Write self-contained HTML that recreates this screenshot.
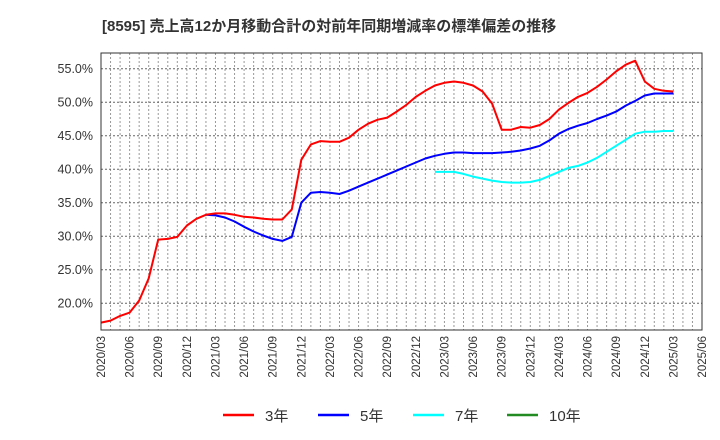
<!DOCTYPE html>
<html><head><meta charset="utf-8"><style>
body{margin:0;background:#fff;}
svg{display:block;font-family:"Liberation Sans","Noto Sans CJK JP",sans-serif;}
</style></head><body>
<svg id="chart" width="720" height="440">
<text x="102" y="31" font-size="15" font-weight="bold" fill="#333">[8595]  売上高12か月移動合計の対前年同期増減率の標準偏差の推移</text>
<g id="grid"></g>
<g id="axes"></g>
<g id="series"></g>
<rect x="101" y="53" width="601" height="277" fill="none" stroke="#333" stroke-width="1"/>
<g>
<g><line x1="223" y1="415" x2="254" y2="415" stroke="#ff0000" stroke-width="2.5"/><text x="265" y="421" font-size="15" fill="#333">3年</text></g>
<g><line x1="318" y1="415" x2="349" y2="415" stroke="#0000ff" stroke-width="2.5"/><text x="360" y="421" font-size="15" fill="#333">5年</text></g>
<g><line x1="413" y1="415" x2="444" y2="415" stroke="#00ffff" stroke-width="2.5"/><text x="455" y="421" font-size="15" fill="#333">7年</text></g>
<g><line x1="507" y1="415" x2="538" y2="415" stroke="#228b22" stroke-width="2.5"/><text x="549" y="421" font-size="15" fill="#333">10年</text></g>
</g>
</svg>
<script>
const yTicks=[20,25,30,35,40,45,50,55];
const xTickLabels=["2020/03","2020/06","2020/09","2020/12","2021/03","2021/06","2021/09","2021/12","2022/03","2022/06","2022/09","2022/12","2023/03","2023/06","2023/09","2023/12","2024/03","2024/06","2024/09","2024/12","2025/03","2025/06"];
const s3Start=0;
const s3=[17.1,17.4,18.1,18.6,20.4,23.7,29.5,29.6,29.9,31.6,32.6,33.2,33.4,33.4,33.2,32.9,32.8,32.6,32.5,32.5,34.0,41.4,43.7,44.2,44.1,44.1,44.7,45.9,46.8,47.4,47.7,48.6,49.6,50.8,51.7,52.5,52.9,53.1,52.9,52.5,51.6,49.8,45.9,45.9,46.3,46.2,46.6,47.5,48.9,49.9,50.8,51.4,52.3,53.4,54.6,55.6,56.2,53.1,52.0,51.7,51.6];
const s5Start=11;
const s5=[33.2,33.1,32.8,32.2,31.4,30.7,30.1,29.6,29.3,29.9,35.0,36.5,36.6,36.5,36.3,36.8,37.4,38.0,38.6,39.2,39.8,40.4,41.0,41.6,42.0,42.3,42.5,42.5,42.4,42.4,42.4,42.5,42.6,42.8,43.1,43.5,44.3,45.3,46.0,46.5,46.9,47.5,48.0,48.6,49.5,50.2,51.0,51.3,51.3,51.3];
const s7Start=35;
const s7=[39.6,39.6,39.6,39.3,38.9,38.6,38.3,38.1,38.0,38.0,38.1,38.4,39.0,39.6,40.2,40.5,41.0,41.7,42.6,43.5,44.4,45.3,45.6,45.6,45.7,45.7];

const NS="http://www.w3.org/2000/svg";
const L=101,R=702,T=53,B=330,months=63;
const yMin=16.0,yMax=57.35;
const xs=i=>L+(R-L)*i/months;
const ys=v=>B-(v-yMin)/(yMax-yMin)*(B-T);
function mk(tag,attrs,parent){const e=document.createElementNS(NS,tag);for(const k in attrs)e.setAttribute(k,attrs[k]);parent.appendChild(e);return e;}
const grid=document.getElementById('grid'),axes=document.getElementById('axes'),series=document.getElementById('series');
for(let i=1;i<months;i++){
  const l=mk('line',{x1:xs(i),x2:xs(i),y1:T,y2:B,stroke:'#999','stroke-width':1,'stroke-dasharray':'2,2'},grid);
  
  
}
yTicks.forEach(v=>{
  const l=mk('line',{x1:L,x2:R,y1:ys(v),y2:ys(v),stroke:'#666','stroke-width':1,'stroke-dasharray':'2,2'},grid);
  
  
  const t=mk('text',{x:93,y:ys(v)+4.5,'text-anchor':'end','font-size':12.5,fill:'#333'},axes);
  t.textContent=v.toFixed(1)+'%';
  
  
});
xTickLabels.forEach((lab,k)=>{
  const x=xs(k*3);
  const t=mk('text',{x:0,y:0,'text-anchor':'end','font-size':11.5,fill:'#333',transform:`translate(${x+4},${336}) rotate(-90)`},axes);
  t.textContent=lab;
  
  
});
function draw(arr,start,color,name){
  const pts=arr.map((v,i)=>xs(start+i).toFixed(1)+','+ys(v).toFixed(1)).join(' ');
  const p=mk('polyline',{points:pts,fill:'none',stroke:color,'stroke-width':2,'stroke-linejoin':'round'},series);
  
  
}
draw(s7,s7Start,'#00ffff','series-7y');
draw(s5,s5Start,'#0000ff','series-5y');
draw(s3,s3Start,'#ff0000','series-3y');
</script>
</body></html>
